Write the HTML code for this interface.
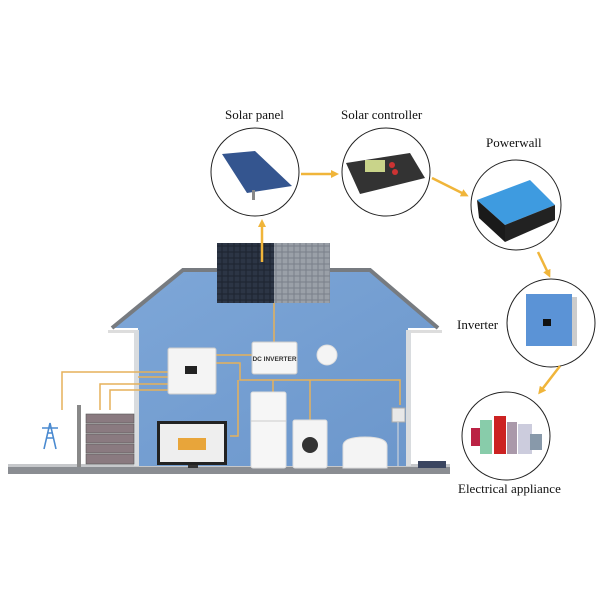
<!DOCTYPE html>
<html><head><style>
html,body{margin:0;padding:0;background:#fff;}
svg text{font-family:"Liberation Serif",serif;font-size:13px;fill:#111;}
</style></head><body>
<svg width="600" height="600" viewBox="0 0 600 600" xmlns="http://www.w3.org/2000/svg">
<defs>
<pattern id="cells" width="6" height="6" patternUnits="userSpaceOnUse">
<rect width="6" height="6" fill="#1d2430"/><rect x="0.5" y="0.5" width="5" height="5" fill="#2c3545"/>
</pattern>
<pattern id="cells2" width="6" height="6" patternUnits="userSpaceOnUse">
<rect width="6" height="6" fill="#7a808a"/><rect x="0.5" y="0.5" width="5" height="5" fill="#9aa0a8"/>
</pattern>
<linearGradient id="wall" x1="0" y1="0" x2="1" y2="1"><stop offset="0" stop-color="#7ea7d8"/><stop offset="1" stop-color="#6b96cb"/></linearGradient>
<marker id="ar" markerWidth="8" markerHeight="8" refX="5" refY="4" orient="auto" markerUnits="userSpaceOnUse"><path d="M0,0 L8,4 L0,8 Z" fill="#f0b53a"/></marker>
</defs>

<rect x="8" y="466" width="442" height="8" fill="#8a8d92"/>
<rect x="8" y="464" width="442" height="3" fill="#c6c8cb"/>

<path d="M112,328 L183,270 L370,270 L438,328 L408,328 L408,466 L138,466 L138,328 Z" fill="url(#wall)"/>
<path d="M112,328 L183,270 L370,270 L438,328" fill="none" stroke="#777b80" stroke-width="4"/>
<rect x="108" y="330" width="30" height="3" fill="#ddd"/>
<rect x="408" y="330" width="34" height="3" fill="#ddd"/>
<rect x="134" y="330" width="5" height="136" fill="#d9dcdf"/>
<rect x="406" y="330" width="5" height="136" fill="#d9dcdf"/>

<rect x="217" y="243" width="57" height="60" fill="url(#cells)"/>
<rect x="274" y="243" width="56" height="60" fill="url(#cells2)"/>

<g stroke="#e6b15a" stroke-width="1.5" fill="none">
<line x1="274" y1="303" x2="274" y2="343"/>
<line x1="216" y1="355" x2="252" y2="355"/>
<path d="M216,363 L240,363 L240,380 L400,380 L400,405"/>
<path d="M238,380 L238,436 L230,436"/>
<line x1="273" y1="380" x2="273" y2="392"/>
<line x1="310" y1="380" x2="310" y2="420"/>
<path d="M62,410 L62,372 L133,372"/>
<line x1="133" y1="372" x2="168" y2="372"/>
<path d="M100,410 L100,384 L168,384"/>
<path d="M110,410 L110,390 L168,390"/>
<line x1="138" y1="377" x2="168" y2="377"/>
</g>

<rect x="168" y="348" width="48" height="46" rx="2" fill="#f4f4f4" stroke="#ccc"/>
<rect x="185" y="366" width="12" height="8" fill="#222"/>
<rect x="252" y="342" width="45" height="32" rx="2" fill="#f6f6f6" stroke="#ccc"/>
<text x="274.5" y="361" text-anchor="middle" style="font-family:'Liberation Sans',sans-serif;font-size:6.5px;font-weight:bold;fill:#333">DC INVERTER</text>
<circle cx="327" cy="355" r="10" fill="#f4f4f4" stroke="#ddd"/>

<rect x="251" y="392" width="35" height="76" rx="2" fill="#f6f6f6" stroke="#ddd"/>
<line x1="251" y1="421" x2="286" y2="421" stroke="#ccc"/>
<rect x="293" y="420" width="34" height="48" rx="2" fill="#f4f4f4" stroke="#ddd"/>
<circle cx="310" cy="445" r="8" fill="#333"/>
<path d="M343,468 L343,446 Q343,437 365,437 Q387,437 387,446 L387,468 Z" fill="#f4f4f4" stroke="#ddd"/>
<rect x="392" y="408" width="13" height="14" fill="#e8e8e8" stroke="#aaa"/>
<line x1="398" y1="422" x2="398" y2="466" stroke="#ddd"/>
<rect x="157" y="421" width="70" height="44" fill="#222"/>
<rect x="160" y="424" width="64" height="38" fill="#eee"/>
<rect x="178" y="438" width="28" height="12" fill="#e8a53a"/>
<rect x="188" y="465" width="10" height="3" fill="#333"/>

<g fill="#8a7a80" stroke="#555" stroke-width="0.6">
<rect x="86" y="414" width="48" height="9"/>
<rect x="86" y="424" width="48" height="9"/>
<rect x="86" y="434" width="48" height="9"/>
<rect x="86" y="444" width="48" height="9"/>
<rect x="86" y="454" width="48" height="10"/>
</g>
<rect x="77" y="405" width="4" height="62" fill="#888"/>
<path d="M44,449 L50,423 L56,449 M46,438 L54,438 M42,428 L58,428 M47,433 L53,433" stroke="#4a8ad0" stroke-width="1.6" fill="none"/>
<rect x="418" y="461" width="28" height="7" fill="#3a4560"/>

<g fill="#fff" stroke="#222" stroke-width="1">
<circle cx="255" cy="172" r="44"/>
<circle cx="386" cy="172" r="44"/>
<circle cx="516" cy="205" r="45"/>
<circle cx="551" cy="323" r="44"/>
<circle cx="506" cy="436" r="44"/>
</g>

<path d="M222,154 L255,151 L292,186 L247,193 Z" fill="#34558f"/>
<rect x="252" y="190" width="3" height="10" fill="#888"/>
<path d="M346,163 L410,153 L425,178 L360,194 Z" fill="#333"/>
<rect x="365" y="160" width="20" height="12" fill="#c9d48a"/>
<circle cx="392" cy="165" r="3" fill="#c33"/>
<circle cx="395" cy="172" r="3" fill="#c33"/>
<path d="M477,200 L530,180 L555,205 L505,225 Z" fill="#3e9be0"/>
<path d="M477,200 L505,225 L505,242 L479,218 Z" fill="#1a1a1a"/>
<path d="M505,225 L555,205 L555,220 L505,242 Z" fill="#222"/>
<rect x="526" y="294" width="46" height="52" fill="#5b93d6"/>
<rect x="572" y="297" width="5" height="49" fill="#ccc"/>
<rect x="543" y="319" width="8" height="7" fill="#111"/>
<rect x="471" y="428" width="16" height="18" fill="#b24"/>
<rect x="480" y="420" width="12" height="34" fill="#8ca"/>
<rect x="494" y="416" width="12" height="38" fill="#c22"/>
<rect x="507" y="422" width="10" height="32" fill="#a9a"/>
<rect x="518" y="424" width="14" height="30" fill="#ccd"/>
<rect x="530" y="434" width="12" height="16" fill="#89a"/>

<g stroke="#f0b53a" stroke-width="2.5" fill="none" marker-end="url(#ar)">
<line x1="262" y1="262" x2="262" y2="222"/>
<line x1="301" y1="174" x2="336" y2="174"/>
<line x1="432" y1="178" x2="466" y2="195"/>
<line x1="538" y1="252" x2="549" y2="275"/>
<line x1="560" y1="366" x2="540" y2="392"/>
</g>

<text x="225" y="119">Solar panel</text>
<text x="341" y="119">Solar controller</text>
<text x="486" y="147">Powerwall</text>
<text x="457" y="329">Inverter</text>
<text x="458" y="493">Electrical appliance</text>
</svg>
</body></html>
